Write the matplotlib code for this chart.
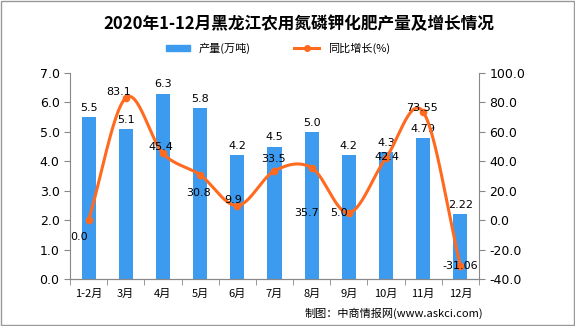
import numpy as np
import matplotlib
matplotlib.use("Agg")
import matplotlib.pyplot as plt
from matplotlib.lines import Line2D
from matplotlib.patches import Patch, Rectangle

plt.rcParams['font.family'] = ['Noto Sans CJK SC', 'DejaVu Sans']

# data
months = ['1-2月', '3月', '4月', '5月', '6月', '7月', '8月', '9月', '10月', '11月', '12月']
output = [5.5, 5.1, 6.3, 5.8, 4.2, 4.5, 5.0, 4.2, 4.3, 4.79, 2.22]
output_labels = ['5.5', '5.1', '6.3', '5.8', '4.2', '4.5', '5.0', '4.2', '4.3', '4.79', '2.22']
growth = [0.0, 83.1, 45.4, 30.8, 9.9, 33.5, 35.7, 5.0, 42.4, 73.55, -31.06]
growth_labels = ['0.0', '83.1', '45.4', '30.8', '9.9', '33.5', '35.7', '5.0', '42.4', '73.55', '-31.06']

bar_color = '#3D9BEF'
line_color = '#FF6A1F'

# offsets of growth labels (points)
g_off = [(-6.5, -16), (-5, 0.5), (-1.5, 1), (-1, -16.5), (-3, 0.5), (-1, 5), (-4, -36), (-7, -3.6), (0.5, -3), (-1, -0.7), (0, -4)]


def catmull_rom(x, y, n=30):
    # smooth curve through the points for drawing
    x = np.asarray(x, float)
    y = np.asarray(y, float)
    px = np.concatenate([[2 * x[0] - x[1]], x, [2 * x[-1] - x[-2]]])
    py = np.concatenate([[2 * y[0] - y[1]], y, [2 * y[-1] - y[-2]]])
    xs, ys = [], []
    t = np.linspace(0, 1, n)
    for i in range(1, len(px) - 2):
        p0, p1, p2, p3 = py[i - 1], py[i], py[i + 1], py[i + 2]
        q0, q1, q2, q3 = px[i - 1], px[i], px[i + 1], px[i + 2]
        ys.append(0.5 * (2 * p1 + (-p0 + p2) * t + (2 * p0 - 5 * p1 + 4 * p2 - p3) * t ** 2 + (-p0 + 3 * p1 - 3 * p2 + p3) * t ** 3))
        xs.append(0.5 * (2 * q1 + (-q0 + q2) * t + (2 * q0 - 5 * q1 + 4 * q2 - q3) * t ** 2 + (-q0 + 3 * q1 - 3 * q2 + q3) * t ** 3))
    return np.concatenate(xs), np.concatenate(ys)


fig = plt.figure(figsize=(5.75, 3.26), dpi=100)
ax = fig.add_axes([0.1217, 0.144, 0.7113, 0.632])
ax2 = ax.twinx()

x = np.arange(len(months))
ax.bar(x, output, width=0.38, color=bar_color, zorder=2)
for xi, v, s in zip(x, output, output_labels):
    ax.annotate(s, (xi, v), xytext=(0, 3), textcoords='offset points',
                ha='center', va='bottom', fontsize=8, family='DejaVu Sans')

ax.set_ylim(0, 7)
ax.set_yticks(np.arange(0, 7.1, 1))
ax.set_yticklabels(['%.1f' % v for v in np.arange(0, 7.1, 1)], fontsize=9, family='DejaVu Sans')
ax.set_xlim(-0.5, len(months) - 0.5)
ax.set_xticks(x)
ax.set_xticklabels(months, fontsize=8)
ax.set_xticks(np.arange(-0.5, len(months), 1), minor=True)
ax.tick_params(axis='x', which='major', length=0, pad=7)
ax.tick_params(axis='x', which='minor', length=4, color='#888888')
ax.tick_params(axis='y', length=4, color='#888888')

sx, sy = catmull_rom(x, growth)
ax2.plot(sx, sy, color=line_color, lw=2.2, zorder=3)
ax2.plot(x, growth, 'o', color=line_color, ms=4.5, zorder=4)
for xi, v, s, off in zip(x, growth, growth_labels, g_off):
    ax2.annotate(s, (xi, v), xytext=off, textcoords='offset points',
                 ha='center', va='bottom', fontsize=8, family='DejaVu Sans', zorder=5)
ax2.set_ylim(-40, 100)
ax2.set_yticks(np.arange(-40, 101, 20))
ax2.set_yticklabels(['%.1f' % v for v in np.arange(-40, 101, 20)], fontsize=9, family='DejaVu Sans')
ax2.tick_params(axis='y', length=4, color='#888888')

for a in (ax, ax2):
    a.spines['top'].set_visible(False)
    for s in ('left', 'right', 'bottom'):
        a.spines[s].set_color('#888888')
ax.spines['right'].set_visible(False)
ax2.spines['left'].set_visible(False)

fig.text(0.52, 0.926, '2020年1-12月黑龙江农用氮磷钾化肥产量及增长情况', ha='center', va='center',
         fontsize=12, fontweight='bold')

handles = [Patch(color=bar_color, label='产量(万吨)'),
           Line2D([0], [0], color=line_color, lw=2.2, marker='o', ms=4, label='同比增长(%)')]
fig.legend(handles=handles, loc='center', bbox_to_anchor=(0.483, 0.852), ncol=2, frameon=False,
           fontsize=8, handlelength=2.2, columnspacing=3.9, handleheight=0.5)

fig.text(0.84, 0.04, '制图：中商情报网(www.askci.com)', ha='right', va='center', fontsize=8)

fig.patches.append(Rectangle((0.001, 0.002), 0.997, 0.995, transform=fig.transFigure,
                             fill=False, edgecolor='#999999', lw=1))

fig.savefig('out.png', dpi=100)
